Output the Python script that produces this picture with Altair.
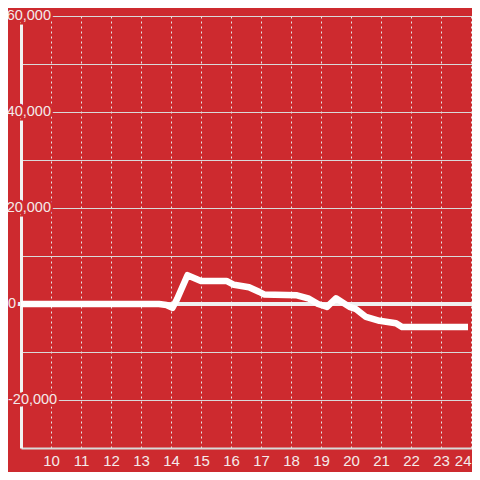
import altair as alt
import pandas as pd

# data line (hour of day vs value)
hours = [9.0, 13.6, 13.85, 14.05, 14.2, 14.55, 15.0, 15.85, 16.1, 16.6, 16.95, 17.1,
         18.2, 18.6, 18.9, 19.2, 19.5, 19.95, 20.15, 20.5, 20.95, 21.5, 21.7, 23.9]
values = [0, 0, -200, -800, 1000, 6000, 4800, 4800, 4000, 3500, 2500, 2000,
          1800, 1100, 0, -600, 1200, -600, -1000, -2700, -3500, -4000, -4800, -4800]

x_ticks = list(range(10, 25))
y_grid = [-20000, -10000, 0, 10000, 20000, 30000, 40000, 50000, 60000]
y_label_vals = [60000, 40000, 20000]
y_label_text = ["60,000", "40,000", "20,000"]
neg_label_vals = [-20000]
neg_label_text = ["-20,000"]

BG = "#cd2a2f"
TXT = "#f4eaea"
FONT = "Liberation Sans"

df = pd.DataFrame({"h": hours, "v": values})
lab = pd.DataFrame({"v": y_label_vals, "t": y_label_text})
neg = pd.DataFrame({"v": neg_label_vals, "t": neg_label_text})
zero = pd.DataFrame({"v": [0], "t": ["0"]})

W = 451
xs = alt.Scale(domain=[9, 9 + W / 30], nice=False, zero=False)
ys = alt.Scale(domain=[-30000, 60000], nice=False)

xaxis = alt.Axis(values=x_ticks, grid=True, gridColor="#e6e6e6", gridDash=[2, 3], gridWidth=1,
                 ticks=False, domainColor="#d9d9d9", domainWidth=2, labelColor=TXT,
                 labelFontSize=15, labelFont=FONT, labelPadding=5, title=None,
                 labelOverlap=False, labelBound=False,
                 labelAlign=alt.ExprRef(expr="datum.value == 24 ? 'right' : 'center'"))
yaxis = alt.Axis(values=y_grid, grid=True, gridColor="#d9d9d9", gridWidth=1, ticks=False,
                 labels=False, domainColor="#f2f2f2", domainWidth=3, title=None)

base = alt.Chart(df).mark_line(color="white", strokeWidth=6.5, strokeCap="butt",
                               strokeJoin="round").encode(
    x=alt.X("h:Q", scale=xs, axis=xaxis),
    y=alt.Y("v:Q", scale=ys, axis=yaxis),
)

zline = alt.Chart(zero).mark_rule(color="#f0f0f0", strokeWidth=4).encode(
    y=alt.Y("v:Q", scale=ys), x=alt.value(-4), x2=alt.value(W))


def label_pair(data, xpos, align):
    halo = alt.Chart(data).mark_text(align=align, baseline="middle", fontSize=14.5, font=FONT,
                                     stroke=BG, strokeWidth=5, color=BG).encode(
        y=alt.Y("v:Q", scale=ys), x=alt.value(xpos), text="t:N")
    txt = alt.Chart(data).mark_text(align=align, baseline="middle", fontSize=14.5, font=FONT,
                                    color=TXT).encode(
        y=alt.Y("v:Q", scale=ys), x=alt.value(xpos), text="t:N")
    return [halo, txt]


layers = [zline, base]
layers += label_pair(lab, 30, "right")
layers += label_pair(neg, -13, "left")
layers += label_pair(zero, -5, "right")

chart = alt.layer(*layers).properties(
    width=W, height=432,
    background=BG,
    padding={"left": 13, "top": 8, "right": 0, "bottom": 24},
    autosize=alt.AutoSizeParams(type="none"),
).configure_view(stroke=None)

chart.save("out.html", embed_options={"renderer": "svg", "actions": False})
